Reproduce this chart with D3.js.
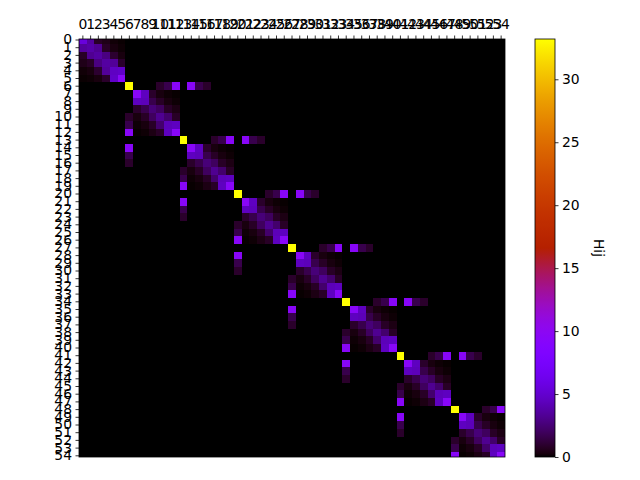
<!DOCTYPE html>
<html>
<head>
<meta charset="utf-8">
<script src="https://cdn.jsdelivr.net/npm/d3@7"></script>
<style>
  body { margin: 0; background: #fff; }
  svg { font-family: "DejaVu Sans", sans-serif; }
</style>
</head>
<body>
<svg id="chart" width="640" height="480"></svg>
<script>
'use strict'

// site count and layout of the matrix: 8 bands of 6 sites, a hub site after each of the first 7
var nSites = 55
var hubIndex = [6, 13, 20, 27, 34, 41, 48]
var bandStart = [0, 7, 14, 21, 28, 35, 42, 49]

// first band (sites 0-5)
var firstBand = [
    [5.5, 3.5, 0.8, 0.5, 0.15, 0.05],
    [3.5, 3.8, 3.2, 0.8, 0.3, 0.1],
    [0.8, 3.2, 3.6, 2.8, 1.0, 0.3],
    [0.5, 0.8, 2.8, 3.6, 3.4, 0.9],
    [0.15, 0.3, 1.0, 3.4, 4.6, 4.8],
    [0.05, 0.1, 0.3, 0.9, 4.8, 9.5]
]
// every later band
var innerBand = [
    [9.5, 4.5, 0.9, 0.3, 0.1, 0.03],
    [4.5, 4.3, 1.6, 0.8, 0.3, 0.1],
    [0.9, 1.6, 2.6, 2.0, 0.8, 0.4],
    [0.3, 0.8, 2.0, 3.2, 2.3, 0.8],
    [0.1, 0.3, 0.8, 2.3, 4.3, 4.5],
    [0.03, 0.1, 0.4, 0.8, 4.5, 9.5]
]
var hubSelf = 33.2
// hub h couples to h+4, h+5, h+6 and to h+8, h+9, h+10
var hubOffsets = [4, 5, 6, 8, 9, 10]
var hubLinks = [0.9, 1.6, 9.5, 9.5, 1.6, 0.9]

var colorTicks = [0, 5, 10, 15, 20, 25, 30]
var colorLabel = 'Hij'

// assemble the symmetric matrix
var H = d3.range(nSites).map(function(){ return d3.range(nSites).map(function(){ return 0 }) })
bandStart.forEach(function(s, k){
    var blk = k === 0 ? firstBand : innerBand
    blk.forEach(function(row, i){
        row.forEach(function(v, j){ H[s + i][s + j] = v })
    })
})
hubIndex.forEach(function(h){
    H[h][h] = hubSelf
    hubOffsets.forEach(function(o, i){
        var j = h + o
        if(j < nSites){
            H[h][j] = hubLinks[i]
            H[j][h] = hubLinks[i]
        }
    })
})
var cells = []
H.forEach(function(row, i){
    row.forEach(function(v, j){ cells.push({i: i, j: j, v: v}) })
})

// matplotlib 'gnuplot' colormap
function gnuplot(t){
    t = Math.max(0, Math.min(1, t))
    var r = Math.sqrt(t)
    var g = t * t * t
    var b = Math.max(0, Math.sin(2 * Math.PI * t))
    return d3.rgb(r * 255, g * 255, b * 255).formatHex()
}

var vmax = d3.max(cells, function(d){ return d.v })
var color = d3.scaleSequential(gnuplot).domain([0, vmax])

var svg = d3.select('#chart')
var plotLeft = 79, plotRight = 505, plotTop = 39, plotBottom = 457

// rows run a little past the frame at top and bottom (the y limits cut them)
var x = d3.scaleBand().domain(d3.range(nSites)).range([plotLeft, plotRight])
var y = d3.scaleBand().domain(d3.range(nSites)).range([36.15, 459.65])

svg.append('defs').append('clipPath').attr('id', 'plotclip')
    .append('rect')
    .attr('x', plotLeft).attr('y', plotTop)
    .attr('width', plotRight - plotLeft).attr('height', plotBottom - plotTop)

svg.append('g')
    .attr('clip-path', 'url(#plotclip)')
    .selectAll('rect')
    .data(cells).enter()
    .append('rect')
    .attr('x', function(d){ return x(d.j) })
    .attr('y', function(d){ return y(d.i) })
    .attr('width', x.bandwidth() + 0.4)
    .attr('height', y.bandwidth() + 0.4)
    .attr('fill', function(d){ return color(d.v) })
    .attr('shape-rendering', 'crispEdges')

svg.append('rect')
    .attr('x', plotLeft).attr('y', plotTop)
    .attr('width', plotRight - plotLeft).attr('height', plotBottom - plotTop)
    .attr('fill', 'none').attr('stroke', '#000').attr('stroke-width', 0.8)

function styleAxis(g){
    g.select('.domain').remove()
    g.selectAll('.tick line').attr('stroke', '#000').attr('stroke-width', 0.8)
    g.selectAll('.tick text').attr('fill', '#000')
        .style('font-family', '"DejaVu Sans", sans-serif').style('font-size', '13.9px')
}

svg.append('g')
    .attr('transform', 'translate(0,' + plotTop + ')')
    .call(d3.axisTop(x).tickSize(3.5).tickPadding(6.8))
    .call(styleAxis)

svg.append('g')
    .attr('transform', 'translate(' + plotLeft + ',0)')
    .call(d3.axisLeft(y).tickSize(3.5).tickPadding(3.5))
    .call(styleAxis)

// colorbar
var cbLeft = 535, cbRight = 555
var cbScale = d3.scaleLinear().domain([0, vmax]).range([plotBottom, plotTop])

var grad = svg.select('defs').append('linearGradient')
    .attr('id', 'cbgrad')
    .attr('x1', 0).attr('y1', 1).attr('x2', 0).attr('y2', 0)
grad.selectAll('stop')
    .data(d3.range(0, 1.0001, 1 / 128)).enter()
    .append('stop')
    .attr('offset', function(d){ return d })
    .attr('stop-color', function(d){ return gnuplot(d) })

svg.append('rect')
    .attr('x', cbLeft).attr('y', plotTop)
    .attr('width', cbRight - cbLeft).attr('height', plotBottom - plotTop)
    .attr('fill', 'url(#cbgrad)')
    .attr('stroke', '#000').attr('stroke-width', 0.8)

svg.append('g')
    .attr('transform', 'translate(' + cbRight + ',0)')
    .call(d3.axisRight(cbScale).tickValues(colorTicks).tickSize(3.5).tickPadding(3.5))
    .call(styleAxis)

svg.append('text')
    .attr('transform', 'translate(594,' + ((plotTop + plotBottom) / 2) + ') rotate(90)')
    .attr('text-anchor', 'middle')
    .style('font-size', '13.9px')
    .text(colorLabel)
</script>
</body>
</html>
